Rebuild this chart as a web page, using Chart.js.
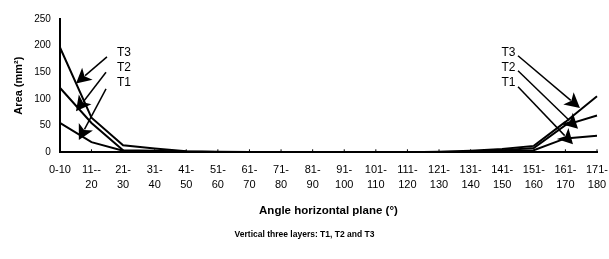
<!DOCTYPE html>
<html lang="en">
<head>
<meta charset="UTF-8" />
<title>Area by horizontal angle</title>
<script src="https://cdn.jsdelivr.net/npm/chart.js"></script>
<style>
  html, body { margin: 0; padding: 0; background: #fff; }
  #wrap { width: 609px; height: 259px; }
</style>
</head>
<body>
<div id="wrap"><canvas id="areaChart"></canvas></div>
<script>
// angle classes (x axis)
const angleLabels = [
  ["0-10"], ["11--", "20"], ["21-", "30"], ["31-", "40"], ["41-", "50"], ["51-", "60"],
  ["61-", "70"], ["71-", "80"], ["81-", "90"], ["91-", "100"], ["101-", "110"], ["111-", "120"],
  ["121-", "130"], ["131-", "140"], ["141-", "150"], ["151-", "160"], ["161-", "170"], ["171-", "180"]
];

// area (mm2) per layer
const t1Values = [55, 19, 3, 2, 1, 0.5, 0.5, 0, 0, 0, 0, 0, 0.5, 1, 2, 4, 26, 31];
const t2Values = [121, 55, 4, 3, 1, 0.5, 0.5, 0, 0, 0, 0, 0, 0.5, 1, 4, 8, 51, 69];
const t3Values = [197, 65, 13, 7, 2, 1, 0.5, 0.5, 0, 0, 0, 0, 1, 3, 6, 12, 57, 105];

const yTicks = [0, 50, 100, 150, 200, 250];

// callouts: label, label pos (index, value), arrow start / tip (index, value)
const calloutLabels = ["T3", "T2", "T1", "T3", "T2", "T1"];
const calloutText = [[2.03, 186], [2.03, 158], [2.03, 130], [14.2, 186], [14.2, 158], [14.2, 130]];
const calloutFrom = [[1.49, 179], [1.46, 150], [1.46, 119], [14.5, 181], [14.5, 153], [14.5, 123]];
const calloutTo = [[0.51, 129], [0.51, 77], [0.6, 23], [16.46, 83], [16.4, 44], [16.24, 15]];

const fontFam = "'Liberation Sans', Arial, Helvetica, sans-serif";

const calloutPlugin = {
  id: "callouts",
  afterDatasetsDraw(chart) {
    const { ctx, scales: { x, y } } = chart;
    ctx.save();
    // small inside ticks on the x axis
    ctx.strokeStyle = "#000";
    ctx.lineWidth = 1;
    angleLabels.forEach((l, i) => {
      const px = x.getPixelForValue(i);
      ctx.beginPath();
      ctx.moveTo(px, y.bottom);
      ctx.lineTo(px, y.bottom - 3);
      ctx.stroke();
    });
    ctx.fillStyle = "#000";
    ctx.font = "12px " + fontFam;
    ctx.textAlign = "center";
    ctx.textBaseline = "middle";
    calloutLabels.forEach((lab, i) => {
      ctx.fillText(lab, x.getPixelForValue(calloutText[i][0]), y.getPixelForValue(calloutText[i][1]));
      const x0 = x.getPixelForValue(calloutFrom[i][0]);
      const y0 = y.getPixelForValue(calloutFrom[i][1]);
      const x1 = x.getPixelForValue(calloutTo[i][0]);
      const y1 = y.getPixelForValue(calloutTo[i][1]);
      const ang = Math.atan2(y1 - y0, x1 - x0);
      const hl = 15, hw = 8;
      const c = Math.cos(ang), s = Math.sin(ang);
      ctx.lineWidth = 1.5;
      ctx.beginPath();
      ctx.moveTo(x0, y0);
      ctx.lineTo(x1 - c * hl * 0.8, y1 - s * hl * 0.8);
      ctx.stroke();
      ctx.beginPath();
      ctx.moveTo(x1, y1);
      ctx.lineTo(x1 - c * hl - s * hw, y1 - s * hl + c * hw);
      ctx.lineTo(x1 - c * hl * 0.75, y1 - s * hl * 0.75);
      ctx.lineTo(x1 - c * hl + s * hw, y1 - s * hl - c * hw);
      ctx.closePath();
      ctx.fill();
    });
    ctx.restore();
  }
};

const lineStyle = { borderColor: "#000", borderWidth: 2, pointRadius: 0, tension: 0, fill: false };

new Chart(document.getElementById("areaChart"), {
  type: "line",
  data: {
    labels: angleLabels,
    datasets: [
      { label: "T1", data: t1Values, ...lineStyle },
      { label: "T2", data: t2Values, ...lineStyle },
      { label: "T3", data: t3Values, ...lineStyle }
    ]
  },
  options: {
    responsive: true,
    maintainAspectRatio: false,
    animation: false,
    layout: { padding: { top: 19, right: 0, left: 0, bottom: 19 } },
    plugins: {
      legend: { display: false },
      tooltip: { enabled: false },
      title: {
        display: true,
        position: "bottom",
        text: "Vertical three layers: T1, T2 and T3",
        color: "#000",
        font: { family: fontFam, size: 8.5, weight: "bold" },
        padding: { top: 12, bottom: 0 }
      }
    },
    scales: {
      x: {
        offset: false,
        grid: { display: false, drawTicks: false },
        border: { color: "#000", width: 2 },
        afterFit: (scale) => { scale.paddingRight = 12; },
        ticks: {
          color: "#000",
          maxRotation: 0,
          autoSkip: false,
          padding: 10,
          font: { family: fontFam, size: 11, lineHeight: 1.35 }
        },
        title: {
          display: true,
          text: "Angle horizontal plane (°)",
          color: "#000",
          font: { family: fontFam, size: 11.5, weight: "bold" },
          padding: { top: 2, bottom: 0 }
        }
      },
      y: {
        min: 0,
        max: 250,
        afterBuildTicks: (axis) => { axis.ticks = yTicks.map(v => ({ value: v })); },
        grid: { display: false, drawTicks: false },
        border: { color: "#000", width: 2 },
        ticks: {
          color: "#000",
          padding: 9,
          font: { family: fontFam, size: 10 }
        },
        title: {
          display: true,
          text: "Area (mm²)",
          color: "#000",
          font: { family: fontFam, size: 11, weight: "bold" },
          padding: { top: 12, bottom: 0 }
        }
      }
    }
  },
  plugins: [calloutPlugin]
});
</script>
</body>
</html>
